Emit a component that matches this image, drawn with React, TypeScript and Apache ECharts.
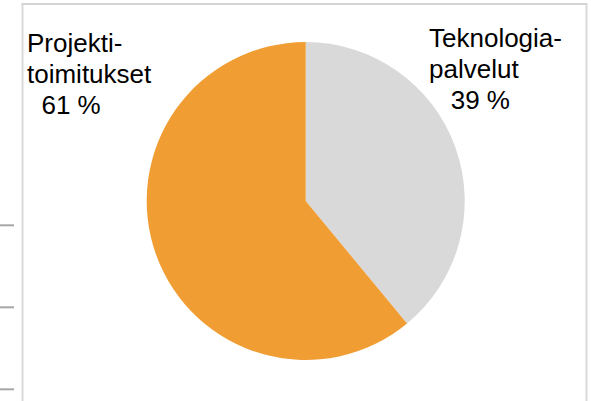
import React, { useEffect, useRef } from "react";
import * as echarts from "echarts";

const categories = ["Teknologia-\npalvelut", "Projekti-\ntoimitukset"];
const shares = [39, 61];
const sliceColors = ["#d9d9d9", "#f09d33"];
const labelIndents = ["   ", "  "];
const tickRows = [225.3, 307.3, 389.3];

export default function App() {
  const ref = useRef<HTMLDivElement>(null);
  useEffect(() => {
    document.body.style.margin = "0";
    const chart = echarts.init(ref.current!, null, { renderer: "svg" });
    const labelPos = [
      { x: 429, y: 22.5 },
      { x: 27, y: 27.5 },
    ];
    const frame = { left: 22.5, top: 4, right: 586.5, bottom: 430 };
    chart.setOption({
      animation: false,
      backgroundColor: "#ffffff",
      graphic: [
        {
          type: "rect",
          shape: { x: frame.left - 1, y: frame.top - 1, width: frame.right - frame.left + 2, height: 2 },
          style: { fill: "#d4d4d4" },
          silent: true,
          z: 10,
        },
        {
          type: "line",
          shape: { x1: frame.left, y1: frame.top, x2: frame.left, y2: frame.bottom },
          style: { stroke: "#d9d9d9", lineWidth: 2 },
          silent: true,
          z: 10,
        },
        {
          type: "line",
          shape: { x1: frame.right, y1: frame.top, x2: frame.right, y2: frame.bottom },
          style: { stroke: "#d9d9d9", lineWidth: 2 },
          silent: true,
          z: 10,
        },
        ...tickRows.map((y) => ({
          type: "line",
          shape: { x1: 0, y1: y, x2: 14, y2: y },
          style: { stroke: "#a6a6a6", lineWidth: 2 },
          silent: true,
        })),
      ],
      series: [
        {
          type: "pie",
          center: [305.7, 201],
          radius: [0, 159],
          startAngle: 90,
          clockwise: true,
          label: {
            show: true,
            position: "outside",
            fontFamily: "Liberation Sans, Arial, sans-serif",
            fontSize: 26,
            lineHeight: 31,
            color: "#000000",
            align: "left",
            overflow: "none",
            width: 200,
            formatter: (p: any) => `${p.name}\n${labelIndents[p.dataIndex]}${p.value} %`,
          },
          labelLine: { show: false },
          labelLayout: (params: any) => ({
            x: labelPos[params.dataIndex].x,
            y: labelPos[params.dataIndex].y,
            align: "left",
            verticalAlign: "top",
            hideOverlap: false,
          }),
          emphasis: { disabled: true },
          itemStyle: { borderWidth: 0 },
          data: categories.map((name, i) => ({
            name,
            value: shares[i],
            itemStyle: { color: sliceColors[i] },
          })),
        },
      ],
    });
    return () => chart.dispose();
  }, []);
  return <div ref={ref} style={{ width: 591, height: 401 }} />;
}
